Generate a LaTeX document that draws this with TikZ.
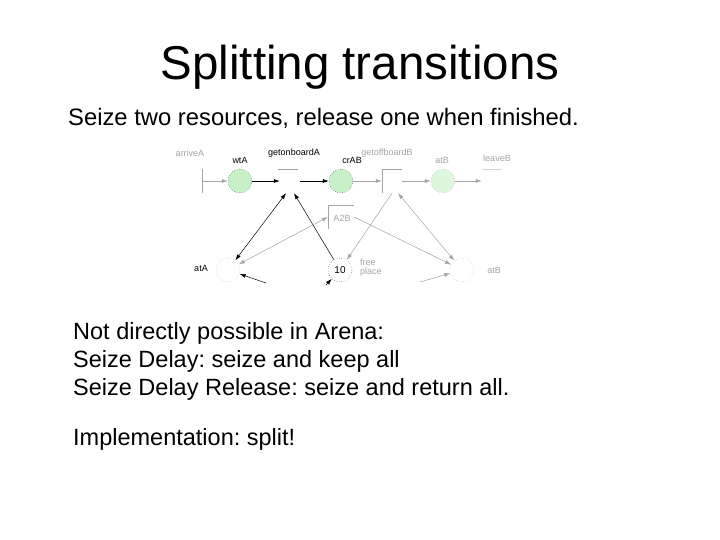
\documentclass[tikz,border=0pt]{standalone}
\usepackage{fontspec}
\setmainfont{Liberation Sans}
\usetikzlibrary{arrows.meta}
\frenchspacing
\definecolor{lg}{RGB}{165,165,165}
\definecolor{pgreen}{RGB}{200,240,200}
\definecolor{pgreenl}{RGB}{222,246,222}
\tikzset{
  body/.style={anchor=base west,inner sep=0pt,font=\fontsize{23.5}{28}\selectfont},
  place/.style={circle,minimum size=24pt,inner sep=0pt},
  trans/.style={rectangle,minimum width=20pt,minimum height=24pt,inner sep=0pt},
  lab/.style={font=\fontsize{9}{10}\selectfont,inner sep=0pt},
  arc/.style={-{Latex[length=6pt,width=4pt]},line width=0.5pt},
  darc/.style={{Latex[length=6pt,width=4pt]}-{Latex[length=6pt,width=4pt]},line width=0.5pt}
}
\begin{document}
\begin{tikzpicture}[x=1pt,y=-1pt]
\useasboundingbox[fill=white] (0,0) rectangle (720,540);
\node[anchor=base,inner sep=0pt,font=\fontsize{47.5}{52}\selectfont] (title) at (360,80) {Splitting transitions};
\node[anchor=base west,inner sep=0pt,font=\fontsize{23.8}{28}\selectfont] (sub) at (68,126) {Seize two resources, release one when finished.};
\node[body] (l1) at (73,339) {Not directly possible in Arena:};
\node[body] (l2) at (73,367) {Seize Delay: seize and keep all};
\node[body] (l3) at (73,395) {Seize Delay Release: seize and return all.};
\node[body] (l4) at (73,445) {Implementation: split!};
% places
\node[place,fill=pgreen,draw=black,dotted] (wtA) at (240,181) {};
\node[place,fill=pgreen,draw=black,dotted] (crAB) at (341,181) {};
\node[place,fill=pgreenl,draw=lg,dotted] (atBt) at (443,181) {};
\node[place,draw=lg,dotted] (atA) at (228,270) {};
\node[place,draw=black,dotted,font=\fontsize{10}{12}\selectfont] (free) at (340,270) {10};
\node[place,draw=lg,dotted] (atBb) at (462,270) {};
% transitions
\node[trans] (arriveA) at (192,181) {};
\node[trans] (getonA) at (290,181) {};
\node[trans] (getoffB) at (392,181) {};
\node[trans] (leaveB) at (492,181) {};
\node[trans,minimum width=26pt] (A2B) at (341,217) {};
\draw[lg] (arriveA.north east) -- (arriveA.south east);
\draw[lg] ([xshift=-2pt]getonA.north west) -- ([xshift=-2pt]getonA.north east);
\draw[lg] (getoffB.south west) -- (getoffB.north west) -- (getoffB.north east);
\draw[lg] (A2B.south west) -- (A2B.north west) -- (A2B.north east);
\draw[lg!50] (leaveB.north west) -- (leaveB.north east);
% labels
\node[lab,text=lg] (larriveA) at (190,153) {arriveA};
\node[lab] (lwtA) at (240,160) {wtA};
\node[lab] (lgetonA) at (294,153) {getonboardA};
\node[lab] (lcrAB) at (352,160) {crAB};
\node[lab,text=lg] (lgetoffB) at (387,153) {getoffboardB};
\node[lab,text=lg] (latBt) at (442,160) {atB};
\node[lab,text=lg] (lleaveB) at (497,158) {leaveB};
\node[lab,text=lg] (lA2B) at (342,218) {A2B};
\node[lab] (latA) at (201,268) {atA};
\node[lab,text=lg,align=left,anchor=west] (lfree) at (360,268) {free\\[-1pt]place};
\node[lab,text=lg] (latBb) at (494,270) {atB};
% arcs
\draw[arc,lg] (arriveA.east) -- (wtA);
\draw[arc] (wtA) -- (getonA.west);
\draw[arc] (getonA.east) -- (crAB);
\draw[arc,lg] (crAB) -- (getoffB.west);
\draw[arc,lg] (getoffB.east) -- (atBt);
\draw[arc,lg] (atBt) -- (leaveB.west);
\draw[darc] (atA) -- ([xshift=-4pt]getonA.south);
\draw[arc] (free) -- ([xshift=4pt]getonA.south);
\draw[darc,lg] (atA) -- (A2B.west);
\draw[arc,lg] (A2B.east) -- (atBb);
\draw[arc,lg] (getoffB.south) -- (free);
\draw[darc,lg] ([xshift=6pt]getoffB.south) -- (atBb);
\coordinate (s1) at (266,283);
\coordinate (s2) at (420,282);
\coordinate (s3) at (326,285);
\draw[arc] (s1) -- (atA);
\draw[arc,lg] (s2) -- (atBb);
\draw[arc] (s3) -- (free);
\end{tikzpicture}
\end{document}
